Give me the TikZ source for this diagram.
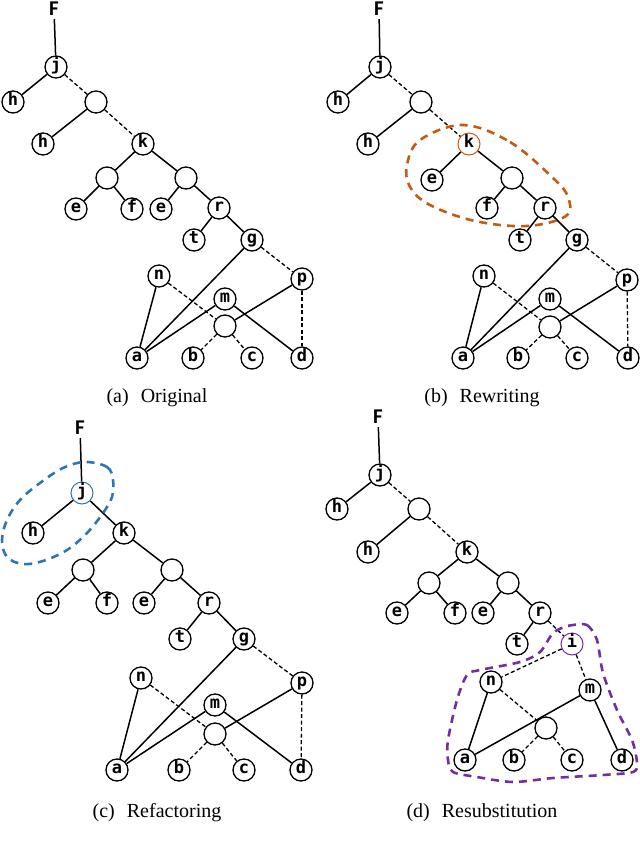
\documentclass[tikz,border=0pt]{standalone}
\usepackage{fontspec}
\setmainfont{Liberation Serif}
\newfontfamily\nodefnt{DejaVu Sans Mono}
\newfontfamily\ffnt{Carlito}
\definecolor{orng}{RGB}{197,90,17}
\definecolor{blu}{RGB}{46,117,182}
\definecolor{purp}{RGB}{112,48,160}
\tikzset{
  nd/.style={circle,draw,line width=1.3pt,minimum size=22pt,inner sep=0pt,fill=white,
    font={\nodefnt\bfseries\fontsize{17}{17}\selectfont},text height=0.78em,text depth=0pt},
  flab/.style={inner sep=3pt,font={\ffnt\bfseries\fontsize{21}{21}\selectfont}},
  ed/.style={line width=1.5pt},
  dsh/.style={line width=1.3pt,dash pattern=on 4pt off 2.5pt},
  hil/.style={line width=2.6pt,dash pattern=on 8pt off 6pt},
  capt/.style={anchor=base,inner sep=0pt,font={\fontsize{20}{24}\selectfont}}
}
\begin{document}
\begin{tikzpicture}[x=1pt,y=-1pt]
\useasboundingbox (0,0) rectangle (640,844);
% ---------------- (a) ----------------
\node[flab] (aF) at (54,9) {F};
\node[nd] (aj) at (56,67) {j};
\node[nd] (ah1) at (13,102) {h};
\node[nd] (au1) at (96,102) {};
\node[nd] (ah2) at (43,144) {h};
\node[nd] (ak) at (143,144) {k};
\node[nd] (au2) at (107,178) {};
\node[nd] (au3) at (186,178) {};
\node[nd] (ae1) at (76,209) {e};
\node[nd] (af) at (132,209) {f};
\node[nd] (ae2) at (161,209) {e};
\node[nd] (ar) at (219,208) {r};
\node[nd] (at) at (194,240) {t};
\node[nd] (ag) at (252,240) {g};
\node[nd] (an) at (159,276) {n};
\node[nd] (ap) at (302,279) {p};
\node[nd] (am) at (225,299) {m};
\node[nd] (au4) at (225,326) {};
\node[nd] (aa) at (137,358) {a};
\node[nd] (ab) at (193,358) {b};
\node[nd] (ac) at (252,358) {c};
\node[nd] (ad) at (302,358) {d};
\foreach \s/\t in {F/j,j/h1,u1/h2,k/u2,k/u3,u2/e1,u2/f,u3/e2,u3/r,r/t,r/g,g/a,n/a,m/a,p/u4,m/d}
  \draw[ed] (a\s) -- (a\t);
\foreach \s/\t in {j/u1,u1/k,g/p,n/u4,p/d,u4/b,u4/c}
  \draw[dsh] (a\s) -- (a\t);
\node[capt] (acap) at (157,402) {(a)\hspace{0.35em} Original};
% ---------------- (b) ----------------
\node[flab] (bF) at (379,9) {F};
\node[nd] (bj) at (380,67) {j};
\node[nd] (bh1) at (338,102) {h};
\node[nd] (bu1) at (421,102) {};
\node[nd] (bh2) at (368,144) {h};
\node[nd,draw=orng,line width=1pt] (bk) at (469,144) {k};
\node[nd] (be) at (432,180) {e};
\node[nd] (bu) at (512,178) {};
\node[nd] (bf) at (487,208) {f};
\node[nd] (br) at (545,208) {r};
\node[nd] (bt) at (520,240) {t};
\node[nd] (bg) at (577,240) {g};
\node[nd] (bn) at (484,276) {n};
\node[nd] (bp) at (627,280) {p};
\node[nd] (bm) at (550,299) {m};
\node[nd] (bu4) at (550,327) {};
\node[nd] (ba) at (463,358) {a};
\node[nd] (bb) at (518,358) {b};
\node[nd] (bc) at (577,358) {c};
\node[nd] (bd) at (628,358) {d};
\foreach \s/\t in {F/j,j/h1,u1/h2,k/e,k/u,u/f,u/r,r/t,r/g,g/a,n/a,m/a,p/u4,m/d}
  \draw[ed] (b\s) -- (b\t);
\foreach \s/\t in {j/u1,u1/k,g/p,n/u4,p/d,u4/b,u4/c}
  \draw[dsh] (b\s) -- (b\t);
\draw[hil,orng] plot[smooth cycle,tension=0.6] coordinates {(463,125) (510,142) (553,178) (568,197) (566,216) (527,226) (475,221) (430,205) (410,187) (407,165) (420,140)};
\node[capt] (bcap) at (482,402) {(b)\hspace{0.35em} Rewriting};
% ---------------- (c) ----------------
\node[flab] (cF) at (80,428) {F};
\node[nd,draw=blu,line width=1pt] (cj) at (82,493) {j};
\node[nd] (ch) at (33,533) {h};
\node[nd] (ck) at (124,533) {k};
\node[nd] (cu2) at (83,570) {};
\node[nd] (cu3) at (172,570) {};
\node[nd] (ce1) at (48,603) {e};
\node[nd] (cf) at (107,603) {f};
\node[nd] (ce2) at (144,603) {e};
\node[nd] (cr) at (209,603) {r};
\node[nd] (ct) at (180,639) {t};
\node[nd] (cg) at (244,639) {g};
\node[nd] (cn) at (141,678) {n};
\node[nd] (cp) at (302,683) {p};
\node[nd] (cm) at (215,705) {m};
\node[nd] (cu4) at (215,734) {};
\node[nd] (ca) at (117,770) {a};
\node[nd] (cb) at (179,770) {b};
\node[nd] (cc) at (244,770) {c};
\node[nd] (cd) at (301,770) {d};
\foreach \s/\t in {F/j,j/h,j/k,k/u2,k/u3,u2/e1,u2/f,u3/e2,u3/r,r/t,r/g,g/a,n/a,m/a,p/u4,m/d}
  \draw[ed] (c\s) -- (c\t);
\foreach \s/\t in {g/p,n/u4,p/d,u4/b,u4/c}
  \draw[dsh] (c\s) -- (c\t);
\draw[hil,blu] plot[smooth cycle,tension=0.6] coordinates {(85,462) (107,467) (113,480) (112,497) (103,513) (87,533) (67,550) (43,561) (23,564) (7,557) (2,540) (7,520) (20,500) (40,483) (63,468)};
\node[capt] (ccap) at (157,817) {(c)\hspace{0.35em} Refactoring};
% ---------------- (d) ----------------
\node[flab] (dF) at (378,417) {F};
\node[nd] (dj) at (380,475) {j};
\node[nd] (dh1) at (337,509) {h};
\node[nd] (du1) at (419,509) {};
\node[nd] (dh2) at (368,552) {h};
\node[nd] (dk) at (467,552) {k};
\node[nd] (du2) at (429,583) {};
\node[nd] (du3) at (508,583) {};
\node[nd] (de1) at (397,613) {e};
\node[nd] (df) at (455,613) {f};
\node[nd] (de2) at (483,613) {e};
\node[nd] (dr) at (540,613) {r};
\node[nd] (dt) at (517,644) {t};
\node[nd,draw=purp,line width=1pt] (di) at (572,644) {i};
\node[nd] (dn) at (491,682) {n};
\node[nd] (dm) at (590,690) {m};
\node[nd] (du4) at (546,728) {};
\node[nd] (da) at (465,760) {a};
\node[nd] (db) at (514,760) {b};
\node[nd] (dc) at (572,760) {c};
\node[nd] (dd) at (622,760) {d};
\foreach \s/\t in {F/j,j/h1,u1/h2,k/u2,k/u3,u2/e1,u2/f,u3/e2,u3/r,r/t,n/a,m/a,m/d}
  \draw[ed] (d\s) -- (d\t);
\foreach \s/\t in {j/u1,u1/k,r/i,i/n,i/m,n/u4,u4/b,u4/c}
  \draw[dsh] (d\s) -- (d\t);
\draw[hil,purp] plot[smooth cycle,tension=0.5] coordinates {(573,625) (587,625) (597,640) (603,673) (617,710) (632,740) (637,763) (633,772) (603,775) (553,778) (513,782) (477,777) (453,772) (448,760) (448,740) (457,700) (467,675) (480,670) (520,662) (540,652) (553,633) (567,626)};
\node[capt] (dcap) at (482,817) {(d)\hspace{0.35em} Resubstitution};
\end{tikzpicture}
\end{document}
